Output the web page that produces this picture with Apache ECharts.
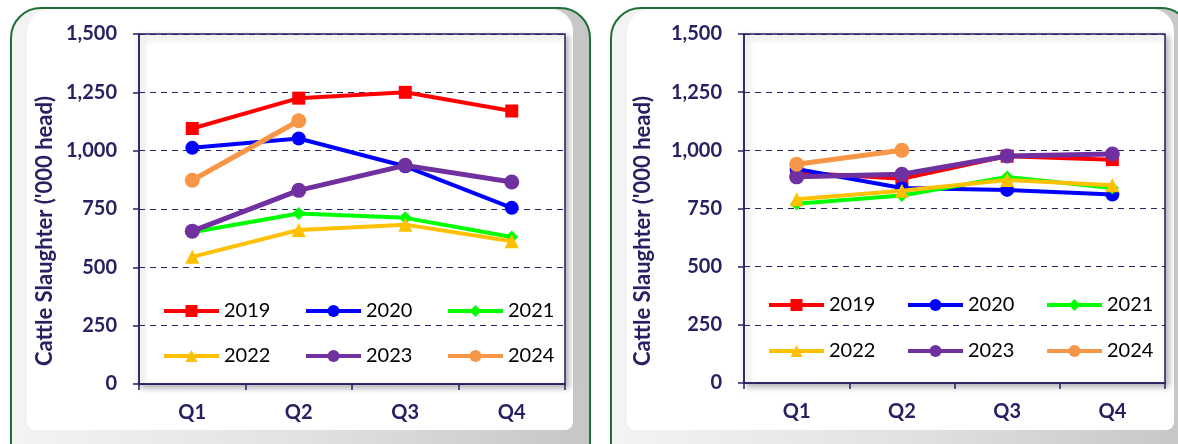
<!DOCTYPE html>
<html>
<head>
<meta charset="utf-8">
<script src="https://cdn.jsdelivr.net/npm/echarts@6/dist/echarts.min.js"></script>
<style>
  html, body { margin: 0; padding: 0; background: #fff; }
  #chart { width: 1178px; height: 444px; }
</style>
</head>
<body>
<div id="chart"></div>
<script>
const quarters = ['Q1', 'Q2', 'Q3', 'Q4']
const years = ['2019', '2020', '2021', '2022', '2023', '2024']
const yTicks = [0, 250, 500, 750, 1000, 1250, 1500]

// left panel
const left2019 = [1095, 1225, 1250, 1170]
const left2020 = [1012, 1052, 933, 755]
const left2021 = [650, 731, 712, 630]
const left2022 = [545, 660, 683, 612]
const left2023 = [655, 830, 937, 866]
const left2024 = [873, 1128]

// right panel
const right2019 = [905, 878, 975, 960]
const right2020 = [920, 838, 830, 810]
const right2021 = [770, 806, 885, 838]
const right2022 = [790, 826, 872, 850]
const right2023 = [886, 897, 976, 984]
const right2024 = [940, 1000]

const navy = '#262262'
const font = 'Lato'
const yTitle = "Cattle Slaughter ('000 head)"

const styles = {
  '2019': { color: '#ff0000', symbol: 'rect', size: 13, width: 4 },
  '2020': { color: '#0000ff', symbol: 'circle', size: 14, width: 4 },
  '2021': { color: '#00ff00', symbol: 'diamond', size: 13, width: 4 },
  '2022': { color: '#ffc000', symbol: 'triangle', size: 14, width: 4 },
  '2023': { color: '#7030a0', symbol: 'circle', size: 15, width: 5 },
  '2024': { color: '#f79646', symbol: 'circle', size: 15, width: 5 }
}

const leftData = [left2019, left2020, left2021, left2022, left2023, left2024]
const rightData = [right2019, right2020, right2021, right2022, right2023, right2024]

function makeSeries(dataList, idx) {
  return years.map(function (y, i) {
    const s = styles[y]
    return {
      name: y,
      type: 'line',
      xAxisIndex: idx,
      yAxisIndex: idx,
      data: dataList[i],
      symbol: s.symbol,
      symbolSize: s.size,
      lineStyle: { width: s.width, color: s.color },
      itemStyle: { color: s.color },
      emphasis: { disabled: true },
      z: 3 + i
    }
  })
}

function makeX(idx) {
  return {
    type: 'category',
    gridIndex: idx,
    data: quarters,
    boundaryGap: true,
    axisLine: { lineStyle: { color: navy, width: 1.5 } },
    axisTick: { show: true, length: 6, lineStyle: { color: navy, width: 1.5 } },
    axisLabel: { margin: 19, color: navy, fontSize: 20, fontWeight: 'bold', fontFamily: font }
  }
}

function makeY(idx) {
  return {
    type: 'value',
    gridIndex: idx,
    min: yTicks[0],
    max: yTicks[yTicks.length - 1],
    interval: 250,
    axisLine: { show: true, lineStyle: { color: navy, width: 1.5 } },
    axisTick: { show: true, length: 6, lineStyle: { color: navy, width: 1.5 } },
    axisLabel: {
      margin: 22, color: navy, fontSize: 20, fontWeight: 'bold', fontFamily: font,
      formatter: function (v) { return v.toLocaleString('en-US') }
    },
    splitLine: { lineStyle: { color: navy, type: [6, 5], width: 1 } }
  }
}

function makeLegend(names, left, top, textW) {
  return {
    data: names,
    left: left,
    top: top,
    width: 440,
    orient: 'horizontal',
    padding: 0,
    itemGap: 0,
    itemWidth: 55,
    itemHeight: 15,
    selectedMode: false,
    lineStyle: { width: 4 },
    textStyle: { color: '#000', fontSize: 20, fontFamily: font, width: textW, lineHeight: 24 }
  }
}

function panel(x, w) {
  return {
    type: 'group',
    silent: true,
    children: [
      {
        type: 'rect',
        shape: { x: x, y: 8, width: w, height: 480, r: 30 },
        style: {
          fill: new echarts.graphic.LinearGradient(0, 0, 1, 0, [
            { offset: 0, color: '#f4f4f4' },
            { offset: 0.5, color: '#e2e2e2' },
            { offset: 1, color: '#c6c6c6' }
          ]),
          stroke: '#1f6f35',
          lineWidth: 2
        },
        z: -10
      },
      {
        type: 'rect',
        shape: { x: x + 16, y: 9, width: w - 33, height: 421, r: [24, 22, 8, 8] },
        style: { fill: '#ffffff' },
        z: -9
      }
    ]
  }
}

function title(x) {
  return {
    type: 'text',
    x: x,
    y: 231,
    rotation: Math.PI / 2,
    silent: true,
    style: {
      text: yTitle,
      fill: navy,
      font: 'bold 22px ' + font,
      align: 'center',
      verticalAlign: 'middle'
    },
    z: 10
  }
}

const chart = echarts.init(document.getElementById('chart'))
chart.setOption({
  backgroundColor: '#ffffff',
  animation: false,
  graphic: [panel(11, 579), panel(611, 580), title(45), title(643)],
  grid: [
    { left: 139, top: 34, width: 426, height: 350, show: true, backgroundColor: '#fff',
      borderColor: navy, borderWidth: 1.5,
      shadowColor: 'rgba(0,0,0,0.3)', shadowBlur: 6, shadowOffsetX: 3, shadowOffsetY: 3 },
    { left: 744, top: 34, width: 421, height: 349, show: true, backgroundColor: '#fff',
      borderColor: navy, borderWidth: 1.5,
      shadowColor: 'rgba(0,0,0,0.3)', shadowBlur: 6, shadowOffsetX: 3, shadowOffsetY: 3 }
  ],
  xAxis: [makeX(0), makeX(1)],
  yAxis: [makeY(0), makeY(1)],
  legend: [
    makeLegend(years.slice(0, 3), 162, 299, 80),
    makeLegend(years.slice(3), 162, 344, 80),
    makeLegend(years.slice(0, 3), 767, 293, 77),
    makeLegend(years.slice(3), 767, 339, 77)
  ],
  series: makeSeries(leftData, 0).concat(makeSeries(rightData, 1))
})
</script>
</body>
</html>
